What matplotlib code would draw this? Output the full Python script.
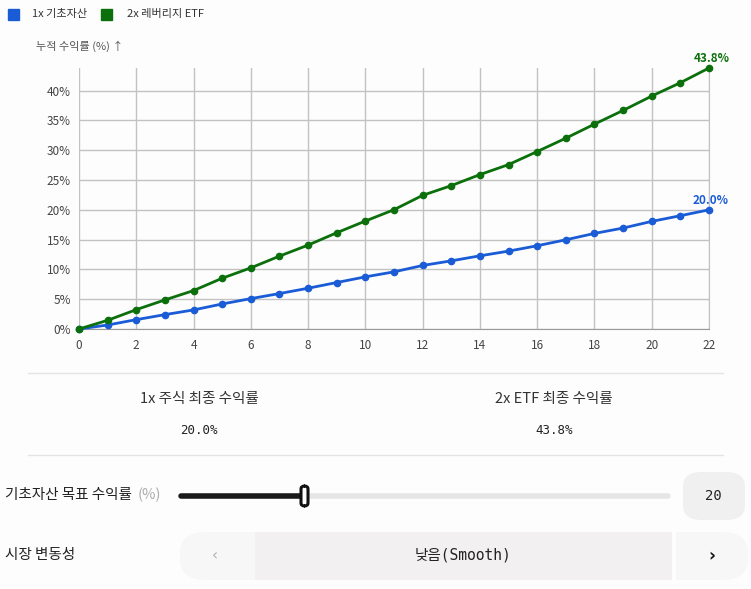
import matplotlib.pyplot as plt
import numpy as np
from matplotlib.patches import FancyBboxPatch, Rectangle
from matplotlib.lines import Line2D

plt.rcParams['font.family'] = ['Noto Sans CJK KR', 'DejaVu Sans']

# Datos
dias = list(range(0, 23))
base_1x = [0, 0.67, 1.57, 2.41, 3.2, 4.2, 5.1, 5.95, 6.84, 7.8, 8.75,
           9.59, 10.66, 11.44, 12.28, 13.07, 13.97, 14.97, 16.04, 16.94, 18.06, 19.01, 20.0]
etf_2x = [0, 1.46, 3.25, 4.88, 6.45, 8.52, 10.26, 12.23, 14.08, 16.15, 18.12,
          20.02, 22.43, 24.06, 25.91, 27.59, 29.78, 32.02, 34.38, 36.68, 39.09, 41.33, 43.8]
series_labels = ['1x 기초자산', '2x 레버리지 ETF']
stat_labels = ['1x 주식 최종 수익률', '2x ETF 최종 수익률']
y_ticks = [0, 5, 10, 15, 20, 25, 30, 35, 40]
x_ticks = list(range(0, 23, 2))
target_return = 20

BLUE = '#1a5bd6'
GREEN = '#0b6f0b'
W, H = 751, 589

fig = plt.figure(figsize=(W / 100, H / 100), dpi=100)
fig.patch.set_facecolor('#fdfdfd')


def fx(x):
    return x / W


def fy(y):
    return 1 - y / H


# Grafico
ax = fig.add_axes([fx(79), fy(329), fx(709) - fx(79), fy(68) - fy(329)])
ax.set_facecolor('#fdfdfd')
ax.plot(dias, base_1x, color=BLUE, lw=2, marker='o', ms=4.5, zorder=3, clip_on=False)
ax.plot(dias, etf_2x, color=GREEN, lw=2, marker='o', ms=4.5, zorder=3, clip_on=False)
ax.set_xlim(0, 22)
ax.set_ylim(0, max(etf_2x))
ax.set_xticks(x_ticks)
ax.set_yticks(y_ticks)
ax.set_yticklabels([f'{v}%' for v in y_ticks])
ax.grid(True, color='#c2c2c2', lw=1)
ax.set_axisbelow(True)
for s in ['top', 'left']:
    ax.spines[s].set_visible(False)
ax.spines['right'].set_color('#c2c2c2')
ax.spines['bottom'].set_color('#9a9a9a')
ax.tick_params(length=0, labelsize=8.5, colors='#444444', pad=6)
ax.tick_params(axis='x', pad=7)

ax.annotate(f'{etf_2x[-1]:.1f}%', (dias[-1], etf_2x[-1]), xytext=(2, 2), textcoords='offset points',
            ha='center', va='bottom', color=GREEN, fontsize=8.5, fontweight='bold', annotation_clip=False)
ax.annotate(f'{base_1x[-1]:.1f}%', (dias[-1], base_1x[-1]), xytext=(1, 2), textcoords='offset points',
            ha='center', va='bottom', color=BLUE, fontsize=8.5, fontweight='bold', annotation_clip=False)

# Leyenda
fig.patches.append(Rectangle((fx(8), fy(20)), fx(11), fy(9) - fy(20), transform=fig.transFigure,
                             color=BLUE, figure=fig))
fig.text(fx(32), fy(14), series_labels[0], fontsize=8, color='#333333', va='center')
fig.patches.append(Rectangle((fx(101), fy(20)), fx(11), fy(9) - fy(20), transform=fig.transFigure,
                             color=GREEN, figure=fig))
fig.text(fx(127), fy(14), series_labels[1], fontsize=8, color='#333333', va='center')
fig.text(fx(36), fy(46), '누적 수익률 (%) ↑', fontsize=8, color='#555555', va='center',
         family=['Noto Sans CJK KR', 'DejaVu Sans'])

# Resumen
for yy in [373, 455]:
    fig.add_artist(Line2D([fx(28), fx(723)], [fy(yy), fy(yy)], color='#e4e4e4', lw=1))
fig.text(fx(199), fy(399), stat_labels[0], ha='center', va='center', fontsize=10.5, color='#333333')
fig.text(fx(199), fy(430), f'{base_1x[-1]:.1f}%', ha='center', va='center', fontsize=9,
         family='DejaVu Sans Mono', color='#222222')
fig.text(fx(554), fy(399), stat_labels[1], ha='center', va='center', fontsize=10.5, color='#333333')
fig.text(fx(554), fy(430), f'{etf_2x[-1]:.1f}%', ha='center', va='center', fontsize=9,
         family='DejaVu Sans Mono', color='#222222')

# Control deslizante
fig.text(fx(5), fy(495), '기초자산 목표 수익률 ', va='center', fontsize=10.5, color='#222222')
fig.text(fx(138), fy(495), '(%)', va='center', fontsize=10.5, color='#aaaaaa')
fig.add_artist(Line2D([fx(305), fx(668)], [fy(496), fy(496)], color='#e6e6e6', lw=4,
                      solid_capstyle='round', zorder=1))
fig.add_artist(Line2D([fx(181), fx(300)], [fy(496), fy(496)], color='#1a1a1a', lw=4,
                      solid_capstyle='round', zorder=1))
fig.add_artist(FancyBboxPatch((fx(301), fy(506)), fx(7), fy(486) - fy(506),
                              boxstyle='round,pad=0,rounding_size=0.005',
                              transform=fig.transFigure, fc='white', ec='#111111', lw=2.2, zorder=5))
fig.patches.append(FancyBboxPatch((fx(683), fy(520)), fx(62), fy(472) - fy(520),
                                  boxstyle='round,pad=0,rounding_size=0.025',
                                  transform=fig.transFigure, fc='#f1f0f0', ec='none', figure=fig))
fig.text(fx(713), fy(496), str(target_return), ha='center', va='center', fontsize=10,
         family='DejaVu Sans Mono', color='#222222')

# Volatilidad
fig.text(fx(5), fy(555), '시장 변동성', va='center', fontsize=10.5, color='#222222')
fig.patches.append(FancyBboxPatch((fx(180), fy(580)), fx(568), fy(532) - fy(580),
                                  boxstyle='round,pad=0,rounding_size=0.035',
                                  transform=fig.transFigure, fc='#f8f7f7', ec='none', figure=fig))
fig.patches.append(Rectangle((fx(255), fy(580)), fx(417), fy(532) - fy(580), transform=fig.transFigure,
                             fc='#f2f0f0', ec='none', figure=fig))
fig.patches.append(Rectangle((fx(672), fy(580)), fx(4), fy(532) - fy(580), transform=fig.transFigure,
                             fc='#fdfdfd', ec='none', figure=fig))
fig.text(fx(215), fy(556), '‹', ha='center', va='center', fontsize=11, color='#b0b0b0',
         family='DejaVu Sans')
fig.text(fx(712), fy(556), '›', ha='center', va='center', fontsize=12, color='#111111',
         fontweight='bold', family='DejaVu Sans')
fig.text(fx(463), fy(555), '낮음(Smooth)', ha='center', va='center', fontsize=10.5, color='#222222',
         family=['DejaVu Sans Mono', 'Noto Sans CJK KR'])

fig.savefig('out.png', dpi=100, facecolor=fig.get_facecolor())
